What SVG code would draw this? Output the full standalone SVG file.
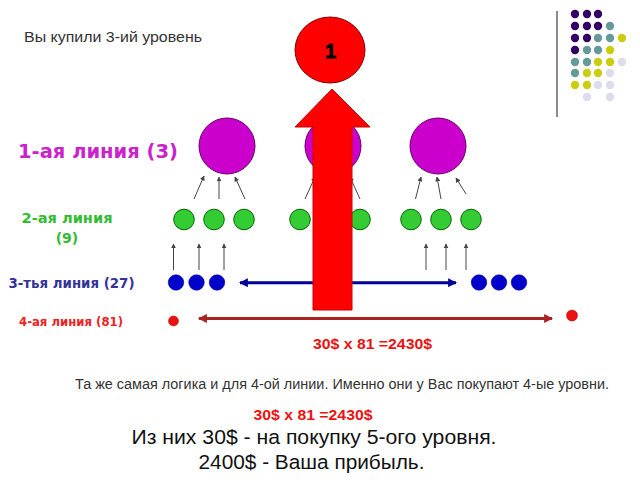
<svg xmlns="http://www.w3.org/2000/svg" width="640" height="480" viewBox="0 0 640 480">
<defs>
<style>
.lbl{font-family:"DejaVu Sans","Liberation Sans",sans-serif;font-weight:bold}
.ar{font-family:"Liberation Sans",Arial,sans-serif}
.gray{fill:#333333}
.pur{fill:#cc00cc;stroke:#660066;stroke-width:1}
.grn{fill:#33cc33;stroke:#006600;stroke-width:1}
.blu{fill:#0000cc;stroke:#000088;stroke-width:0.5}
.rd{fill:#ee1111;stroke:#aa0000;stroke-width:0.5}
.thin{stroke:#444444;stroke-width:1;fill:none;marker-end:url(#sm)}
.dk{fill:#330066}.tl{fill:#669999}.yl{fill:#cccc11}.lv{fill:#dcdcec}
</style>
<marker id="sm" viewBox="0 0 8 8" refX="7" refY="4" markerWidth="5" markerHeight="5" orient="auto" markerUnits="userSpaceOnUse">
<path d="M0,0 L8,4 L0,8 z" fill="#444444"/>
</marker>
<marker id="bh" viewBox="0 0 8 8" refX="7" refY="4" markerWidth="3" markerHeight="3" orient="auto-start-reverse">
<path d="M0,0 L8,4 L0,8 z" fill="#000099"/>
</marker>
<marker id="rh" viewBox="0 0 8 8" refX="7" refY="4" markerWidth="3" markerHeight="3" orient="auto-start-reverse">
<path d="M0,0 L8,4 L0,8 z" fill="#aa2222"/>
</marker>
</defs>
<rect width="640" height="480" fill="#ffffff"/>

<g id="deco">
<line x1="557" y1="11" x2="557" y2="117" stroke="#666666" stroke-width="1.5"/>
<circle class="dk" cx="575" cy="14" r="4.2"/><circle class="dk" cx="587" cy="14" r="4.2"/><circle class="dk" cx="598" cy="14" r="4.2"/>
<circle class="dk" cx="575" cy="26" r="4.2"/><circle class="dk" cx="587" cy="26" r="4.2"/><circle class="dk" cx="598" cy="26" r="4.2"/><circle class="tl" cx="610" cy="26" r="4.2"/>
<circle class="dk" cx="575" cy="38" r="4.2"/><circle class="dk" cx="587" cy="38" r="4.2"/><circle class="tl" cx="598" cy="38" r="4.2"/><circle class="tl" cx="610" cy="38" r="4.2"/><circle class="yl" cx="622" cy="38" r="4.2"/>
<circle class="dk" cx="575" cy="50" r="4.2"/><circle class="tl" cx="587" cy="50" r="4.2"/><circle class="tl" cx="598" cy="50" r="4.2"/><circle class="yl" cx="610" cy="50" r="4.2"/>
<circle class="tl" cx="575" cy="62" r="4.2"/><circle class="tl" cx="587" cy="62" r="4.2"/><circle class="yl" cx="598" cy="62" r="4.2"/><circle class="yl" cx="610" cy="62" r="4.2"/><circle class="lv" cx="622" cy="62" r="4.2"/>
<circle class="tl" cx="575" cy="73" r="4.2"/><circle class="yl" cx="587" cy="73" r="4.2"/><circle class="yl" cx="598" cy="73" r="4.2"/><circle class="lv" cx="610" cy="73" r="4.2"/>
<circle class="yl" cx="575" cy="85" r="4.2"/><circle class="yl" cx="587" cy="85" r="4.2"/><circle class="lv" cx="598" cy="85" r="4.2"/><circle class="lv" cx="610" cy="85" r="4.2"/>
<circle class="lv" cx="587" cy="97" r="4.2"/><circle class="lv" cx="610" cy="97" r="4.2"/>
</g>

<g id="texts">
<text class="ar gray" x="24" y="41.5" font-size="14.5" textLength="178" lengthAdjust="spacingAndGlyphs">Вы купили 3-ий уровень</text>
<text class="lbl" x="18" y="158" font-size="19" fill="#cc22cc" textLength="160" lengthAdjust="spacingAndGlyphs">1-ая линия (3)</text>
<text class="lbl" x="21.5" y="222.5" font-size="14" fill="#33bb33" textLength="91" lengthAdjust="spacingAndGlyphs">2-ая линия</text>
<text class="lbl" x="67" y="243" font-size="14" fill="#33bb33" text-anchor="middle">(9)</text>
<text class="lbl" x="8.5" y="288" font-size="14" fill="#333399" textLength="126" lengthAdjust="spacingAndGlyphs">3-тья линия (27)</text>
<text class="lbl" x="19" y="326" font-size="13" fill="#ee2222" textLength="104" lengthAdjust="spacingAndGlyphs">4-ая линия (81)</text>
<text class="ar" x="313" y="348.5" font-size="15" font-weight="bold" fill="#ee1111" textLength="119" lengthAdjust="spacingAndGlyphs">30$ x 81 =2430$</text>
<text class="ar gray" x="75" y="388.5" font-size="14" textLength="534" lengthAdjust="spacingAndGlyphs">Та же самая логика и для 4-ой линии. Именно они у Вас покупают 4-ые уровни.</text>
<text class="ar" x="253.5" y="419.5" font-size="15" font-weight="bold" fill="#ee1111" textLength="119" lengthAdjust="spacingAndGlyphs">30$ x 81 =2430$</text>
<text class="ar" x="131.5" y="444" font-size="20.5" fill="#111111" textLength="365" lengthAdjust="spacingAndGlyphs">Из них 30$ - на покупку 5-ого уровня.</text>
<text class="ar" x="198.5" y="469" font-size="20.5" fill="#111111" textLength="226" lengthAdjust="spacingAndGlyphs">2400$ - Ваша прибыль.</text>
</g>

<g id="line1">
<circle id="p1" class="pur" cx="227" cy="146" r="28"/>
<circle id="p2" class="pur" cx="333" cy="146" r="28"/>
<circle id="p3" class="pur" cx="438" cy="146" r="28"/>
</g>

<g id="line2">
<circle class="grn" cx="184" cy="219.5" r="10.3"/><circle class="grn" cx="214" cy="219.5" r="10.3"/><circle class="grn" cx="244" cy="219.5" r="10.3"/>
<circle class="grn" cx="300" cy="219.5" r="10.3"/><circle class="grn" cx="330" cy="219.5" r="10.3"/><circle class="grn" cx="360" cy="219.5" r="10.3"/>
<circle class="grn" cx="411" cy="219.5" r="10.3"/><circle class="grn" cx="441" cy="219.5" r="10.3"/><circle class="grn" cx="471" cy="219.5" r="10.3"/>
</g>

<g id="line3">
<circle class="blu" cx="176" cy="282.5" r="7.8"/><circle class="blu" cx="196.5" cy="282.5" r="7.8"/><circle class="blu" cx="217" cy="282.5" r="7.8"/>
<circle class="blu" cx="479" cy="282.5" r="7.8"/><circle class="blu" cx="499" cy="282.5" r="7.8"/><circle class="blu" cx="519" cy="282.5" r="7.8"/>
</g>

<g id="line4">
<circle class="rd" cx="173.5" cy="321" r="5"/>
<circle class="rd" cx="572" cy="315.5" r="5.5"/>
</g>

<g id="connectors">
<line class="thin" x1="194" y1="199" x2="204" y2="176"/>
<line class="thin" x1="219" y1="199" x2="219" y2="177"/>
<line class="thin" x1="245" y1="199" x2="235" y2="177"/>
<line class="thin" x1="305" y1="199" x2="315" y2="177"/>
<line class="thin" x1="330" y1="199" x2="330" y2="177"/>
<line class="thin" x1="360" y1="199" x2="350" y2="177"/>
<line class="thin" x1="415.5" y1="199" x2="421" y2="177"/>
<line class="thin" x1="441" y1="199" x2="437" y2="177"/>
<line class="thin" x1="466" y1="194" x2="456" y2="178"/>
<line class="thin" x1="173.5" y1="270" x2="173.5" y2="244"/>
<line class="thin" x1="199" y1="270" x2="199" y2="244"/>
<line class="thin" x1="224" y1="270" x2="224" y2="244"/>
<line class="thin" x1="426" y1="270" x2="426" y2="244"/>
<line class="thin" x1="446" y1="270" x2="446" y2="244"/>
<line class="thin" x1="466" y1="270" x2="466" y2="244"/>
<line x1="240" y1="282.7" x2="456" y2="282.7" stroke="#000099" stroke-width="3" marker-start="url(#bh)" marker-end="url(#bh)"/>
<line x1="199" y1="318.5" x2="552" y2="318.5" stroke="#aa2222" stroke-width="3" marker-start="url(#rh)" marker-end="url(#rh)"/>
</g>

<g id="top">
<ellipse cx="330" cy="50" rx="35" ry="33" fill="#ff0000" stroke="#880000" stroke-width="1"/>
<text class="ar" x="330.5" y="57.5" font-size="20" font-weight="bold" fill="#000000" stroke="#000000" stroke-width="0.8" text-anchor="middle">1</text>
</g>

<g id="bigarrow">
<path d="M332,89 L370,127 L352,127 L352,310 L313,310 L313,127 L295,127 Z" fill="#ff0000" stroke="#cc0000" stroke-width="1"/>
</g>
</svg>
